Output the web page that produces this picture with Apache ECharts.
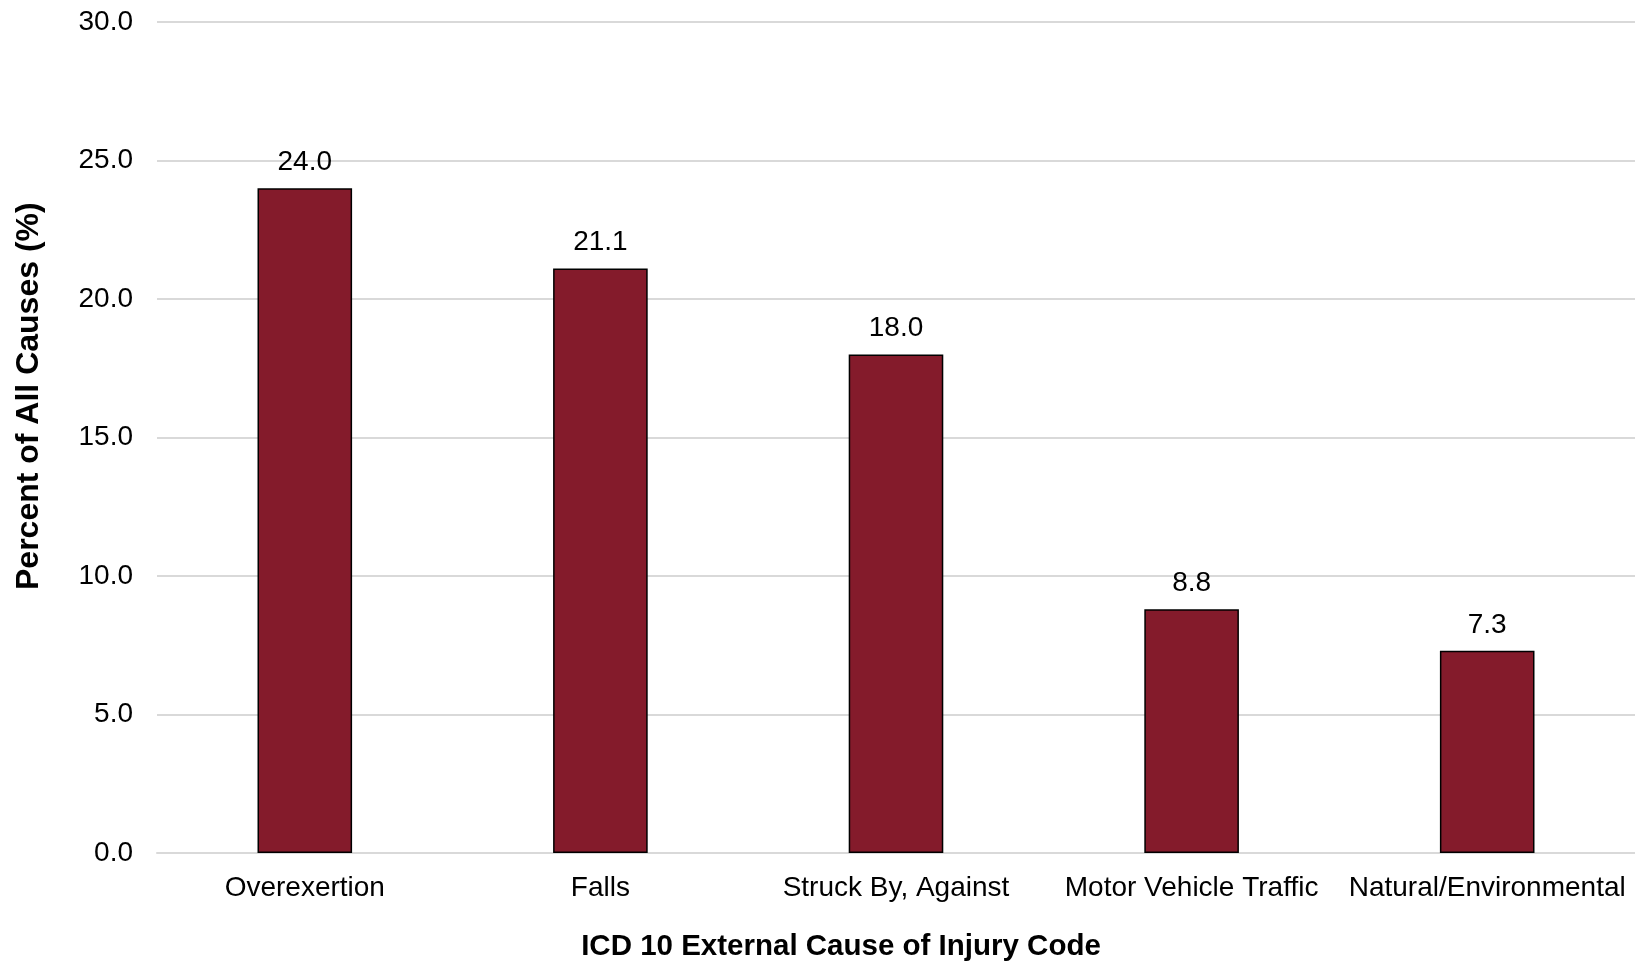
<!DOCTYPE html>
<html>
<head>
<meta charset="utf-8">
<script src="https://cdn.jsdelivr.net/npm/echarts@6/dist/echarts.min.js"></script>
<style>
html,body{margin:0;padding:0;background:#fff;}
#chart{width:1635px;height:962px;}
</style>
</head>
<body>
<div id="chart"></div>
<script>
// injury causes, percent of all causes
var causes = ['Overexertion', 'Falls', 'Struck By, Against', 'Motor Vehicle Traffic', 'Natural/Environmental'];
var percents = [24.0, 21.1, 18.0, 8.8, 7.3];

var font = '"Liberation Sans", Arial, sans-serif';
var chart = echarts.init(document.getElementById('chart'));
chart.setOption({
	animation: false,
	grid: {
		left: 157,
		right: 0,
		top: 22,
		bottom: 109
	},
	xAxis: {
		type: 'category',
		data: causes,
		axisLine: { show: true, lineStyle: { color: '#d9d9d9', width: 2 } },
		axisTick: { show: false },
		axisLabel: {
			color: '#000',
			fontFamily: font,
			fontSize: 28,
			margin: 21,
			interval: 0
		}
	},
	yAxis: {
		type: 'value',
		min: 0,
		max: 30,
		interval: 5,
		axisLine: { show: false },
		axisTick: { show: false },
		axisLabel: {
			color: '#000',
			fontFamily: font,
			fontSize: 28,
			margin: 24,
			formatter: function (v) { return v.toFixed(1); }
		},
		splitLine: { lineStyle: { color: '#d9d9d9', width: 2 } }
	},
	graphic: [
		{
			type: 'text',
			x: 841,
			y: 947,
			style: {
				text: 'ICD 10 External Cause of Injury Code',
				font: 'bold 29.5px ' + font,
				fill: '#000',
				align: 'center',
				verticalAlign: 'middle'
			}
		},
		{
			type: 'text',
			rotation: Math.PI / 2,
			x: 13,
			y: 590,
			style: {
				text: 'Percent of All Causes (%)',
				font: 'bold 32px ' + font,
				fill: '#000'
			}
		}
	],
	series: [
		{
			type: 'bar',
			data: percents,
			barWidth: '32%',
			itemStyle: {
				color: '#841b2b',
				borderColor: '#000',
				borderWidth: 1.5
			},
			label: {
				show: true,
				position: 'top',
				distance: 12,
				color: '#000',
				fontFamily: font,
				fontSize: 28,
				formatter: function (p) { return p.value.toFixed(1); }
			}
		}
	]
});
</script>
</body>
</html>
